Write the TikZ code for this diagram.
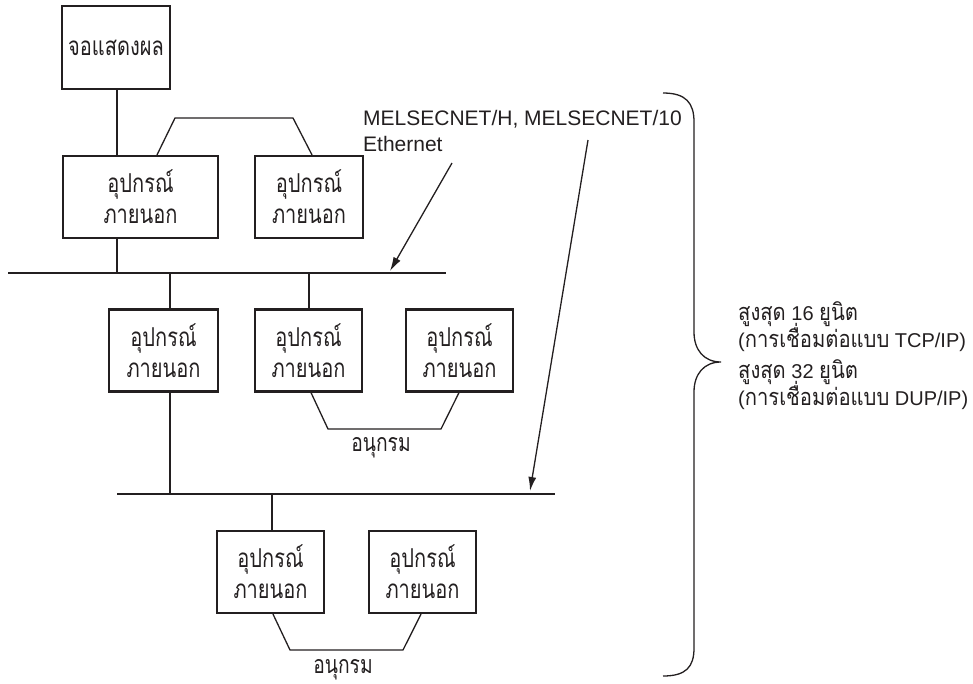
\documentclass[tikz,border=0pt]{standalone}
\usepackage{fontspec}
\setmainfont{Liberation Sans}
\newfontfamily\thai[Script=Thai,FakeStretch=0.77]{Loma}
\newfontfamily\thaiside[Script=Thai,FakeStretch=0.86]{Loma}
\usetikzlibrary{arrows.meta}
\definecolor{ink}{RGB}{35,31,32}
\newcommand{\thtxt}[1]{{\thaiside\fontsize{23.5}{26}\selectfont #1}}
\begin{document}
\begin{tikzpicture}[x=1pt,y=-1pt,
  box/.style={draw=ink,line width=2.2pt,minimum height=82pt,inner sep=0pt,align=center,
    font=\thai\fontsize{26}{31}\selectfont,text=ink},
  conn/.style={draw=ink,line width=1.3pt},
  net/.style={draw=ink,line width=1.5pt},
  arr/.style={draw=ink,line width=1.3pt,-{Latex[length=14pt,width=8pt]}},
  lbl/.style={font=\thai\fontsize{25}{26}\selectfont,text=ink,inner sep=0pt},
  eng/.style={font=\fontsize{21}{26}\selectfont,text=ink,inner sep=0pt,anchor=base west},
  side/.style={font=\fontsize{20}{26}\selectfont,text=ink,inner sep=0pt,anchor=base west}]
\useasboundingbox (0,0) rectangle (973,683);

% boxes
\node[box,minimum width=108pt,minimum height=83pt] (D) at (116,47.5) {จอแสดงผล};
\node[box,minimum width=155pt] (A1) at (140.5,197) {อุปกรณ์\\ภายนอก};
\node[box,minimum width=108pt] (A2) at (309,197) {อุปกรณ์\\ภายนอก};
\node[box,minimum width=109pt] (B1) at (163.5,350.5) {อุปกรณ์\\ภายนอก};
\node[box,minimum width=107pt] (B2) at (308.5,350.5) {อุปกรณ์\\ภายนอก};
\node[box,minimum width=107pt] (B3) at (459.5,350.5) {อุปกรณ์\\ภายนอก};
\node[box,minimum width=107pt] (C1) at (270.5,572) {อุปกรณ์\\ภายนอก};
\node[box,minimum width=107pt] (C2) at (422.5,572) {อุปกรณ์\\ภายนอก};

% network lines
\coordinate (n1a) at (8,273);   \coordinate (n1b) at (446,273);
\coordinate (n2a) at (117,494); \coordinate (n2b) at (555,494);
\draw[net] (n1a) -- (n1b);
\draw[net] (n2a) -- (n2b);

% junctions
\coordinate (j0) at (117,273);
\coordinate (j1) at (170,273);
\coordinate (j2) at (309,273);
\coordinate (j3) at (272,494);

\draw[conn] (D.south -| j0) -- (A1.north -| j0);
\draw[conn] (A1.south -| j0) -- (j0);
\draw[conn] (j1) -- (B1.north -| j1);
\draw[conn] (j2) -- (B2.north -| j2);
\draw[conn] (B1.south -| j1) -- (n2a -| j1);
\draw[conn] (j3) -- (C1.north -| j3);

% bridges
\coordinate (t1) at (175,118); \coordinate (t2) at (293,118);
\draw[conn] ([xshift=16.5pt]A1.north) -- (t1) -- (t2) -- ([xshift=3pt]A2.north);
\coordinate (s1) at (328,429); \coordinate (s2) at (441,429);
\draw[conn] ([xshift=2.5pt]B2.south) -- (s1) -- (s2) -- ([xshift=-0.5pt]B3.south);
\coordinate (u1) at (290,650); \coordinate (u2) at (403,650);
\draw[conn] ([xshift=2.5pt]C1.south) -- (u1) -- (u2) -- ([xshift=-1.5pt]C2.south);

\node[lbl,anchor=base] (L1) at (381,451) {อนุกรม};
\node[lbl,anchor=base] (L2) at (343,673) {อนุกรม};

% network labels and arrows
\node[eng] (M1) at (363,125) {MELSECNET/H, MELSECNET/10};
\node[eng] (M2) at (363,151) {Ethernet};
\coordinate (a1s) at (452,163); \coordinate (a1e) at (390,271);
\coordinate (a2s) at (588,140); \coordinate (a2e) at (530,491);
\draw[arr] (a1s) -- (a1e);
\draw[arr] (a2s) -- (a2e);

% brace
\draw[conn] (663,93) .. controls (686,93) and (694,103) .. (694,122) -- (694,332)
  .. controls (694,350) and (704,362) .. (721,362)
  .. controls (704,362) and (694,374) .. (694,392) -- (694,648)
  .. controls (694,667) and (686,676) .. (663,676);

% side text
\node[side] (R1) at (738,320) {\thtxt{สูงสุด} 16 \thtxt{ยูนิต}};
\node[side] (R2) at (738,347) {(\thtxt{การเชื่อมต่อแบบ} TCP/IP)};
\node[side] (R3) at (738,378) {\thtxt{สูงสุด} 32 \thtxt{ยูนิต}};
\node[side] (R4) at (738,405) {(\thtxt{การเชื่อมต่อแบบ} DUP/IP)};
\end{tikzpicture}
\end{document}
